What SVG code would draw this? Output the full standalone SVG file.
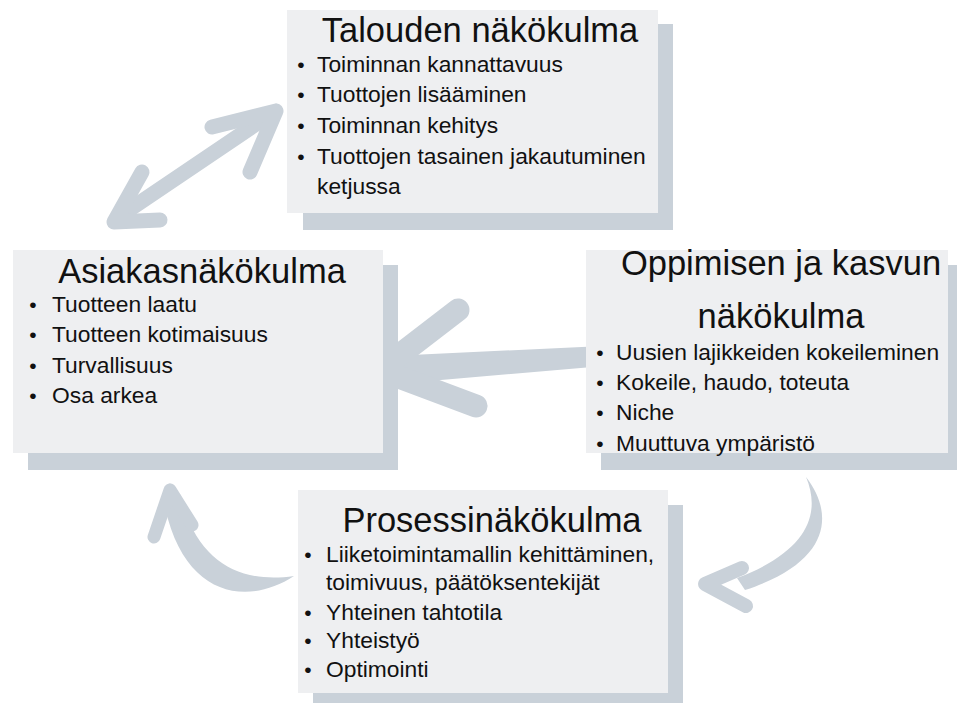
<svg xmlns="http://www.w3.org/2000/svg" width="957" height="703" viewBox="0 0 957 703">
<style>
.sh{fill:#c9d1d9}
.bx{fill:#eeeff1}
.t{font-family:"Liberation Sans",Arial,sans-serif;font-size:34.5px;fill:#111;text-anchor:middle}
.b{font-family:"Liberation Sans",Arial,sans-serif;font-size:22.8px;fill:#111}
.d{font-family:"Liberation Sans",Arial,sans-serif;font-size:21px;fill:#111;text-anchor:middle}
.ar{fill:none;stroke:#c9d1d9;stroke-linecap:round;stroke-linejoin:round}
.af{fill:#c9d1d9}
</style>
<rect width="957" height="703" fill="#ffffff"/>
<g id="connectors">
  <path class="ar" stroke-width="15" d="M120 216 L268 116"/>
  <path class="ar" stroke-width="15" d="M276 111 L212 127 M276 111 L250 172"/>
  <path class="ar" stroke-width="15" d="M114 222 L142 172 M114 222 L160 220"/>
  <path class="af" d="M603 346 L604 366 L395 384 L380 372 L390 356 Z"/>
  <path class="ar" stroke-width="23" d="M380 370 L458 310 M380 370 L476 406"/>
  <path class="af" d="M294 576 C245 608 180 596 163 497 L180 494 C196 562 240 584 294 576 Z"/>
  <path class="ar" stroke-width="13" d="M170 490 L154 537 M170 490 L192 525"/>
  <path class="af" d="M806 477 C832 510 836 560 745 590 L737 578 C806 552 822 515 806 477 Z"/>
  <path class="ar" stroke-width="14" d="M705 584 L742 568 M705 584 L746 606"/>
</g>
<g id="talouden">
  <rect class="sh" x="303" y="24" width="370" height="206"/>
  <rect class="bx" x="287" y="10" width="371" height="203"/>
  <text class="t" x="480" y="42">Talouden näkökulma</text>
  <text class="d" x="301" y="72">•</text><text class="b" x="317" y="72">Toiminnan kannattavuus</text>
  <text class="d" x="301" y="102">•</text><text class="b" x="317" y="102">Tuottojen lisääminen</text>
  <text class="d" x="301" y="133">•</text><text class="b" x="317" y="133">Toiminnan kehitys</text>
  <text class="d" x="301" y="164">•</text><text class="b" x="317" y="164">Tuottojen tasainen jakautuminen</text>
  <text class="b" x="317" y="194">ketjussa</text>
</g>
<g id="asiakas">
  <rect class="sh" x="28" y="265" width="370" height="205"/>
  <rect class="bx" x="13" y="250" width="370" height="203"/>
  <text class="t" x="202" y="283">Asiakasnäkökulma</text>
  <text class="d" x="33" y="312">•</text><text class="b" x="52" y="312">Tuotteen laatu</text>
  <text class="d" x="33" y="342">•</text><text class="b" x="52" y="342">Tuotteen kotimaisuus</text>
  <text class="d" x="33" y="373">•</text><text class="b" x="52" y="373">Turvallisuus</text>
  <text class="d" x="33" y="403">•</text><text class="b" x="52" y="403">Osa arkea</text>
</g>
<g id="oppimisen">
  <rect class="sh" x="601" y="265" width="362" height="205"/>
  <rect class="bx" x="586" y="250" width="362" height="203"/>
  <text class="t" x="781" y="275">Oppimisen ja kasvun</text>
  <text class="t" x="781" y="328">näkökulma</text>
  <text class="d" x="600" y="360">•</text><text class="b" x="616" y="360">Uusien lajikkeiden kokeileminen</text>
  <text class="d" x="600" y="390">•</text><text class="b" x="616" y="390">Kokeile, haudo, toteuta</text>
  <text class="d" x="600" y="420">•</text><text class="b" x="616" y="420">Niche</text>
  <text class="d" x="600" y="451">•</text><text class="b" x="616" y="451">Muuttuva ympäristö</text>
</g>
<g id="prosessi">
  <rect class="sh" x="313" y="505" width="370" height="205"/>
  <rect class="bx" x="298" y="490" width="370" height="203"/>
  <text class="t" x="492" y="532">Prosessinäkökulma</text>
  <text class="d" x="308" y="562">•</text><text class="b" x="326" y="562">Liiketoimintamallin kehittäminen,</text>
  <text class="b" x="326" y="590">toimivuus, päätöksentekijät</text>
  <text class="d" x="308" y="620">•</text><text class="b" x="326" y="620">Yhteinen tahtotila</text>
  <text class="d" x="308" y="648">•</text><text class="b" x="326" y="648">Yhteistyö</text>
  <text class="d" x="308" y="677">•</text><text class="b" x="326" y="677">Optimointi</text>
</g>
</svg>
